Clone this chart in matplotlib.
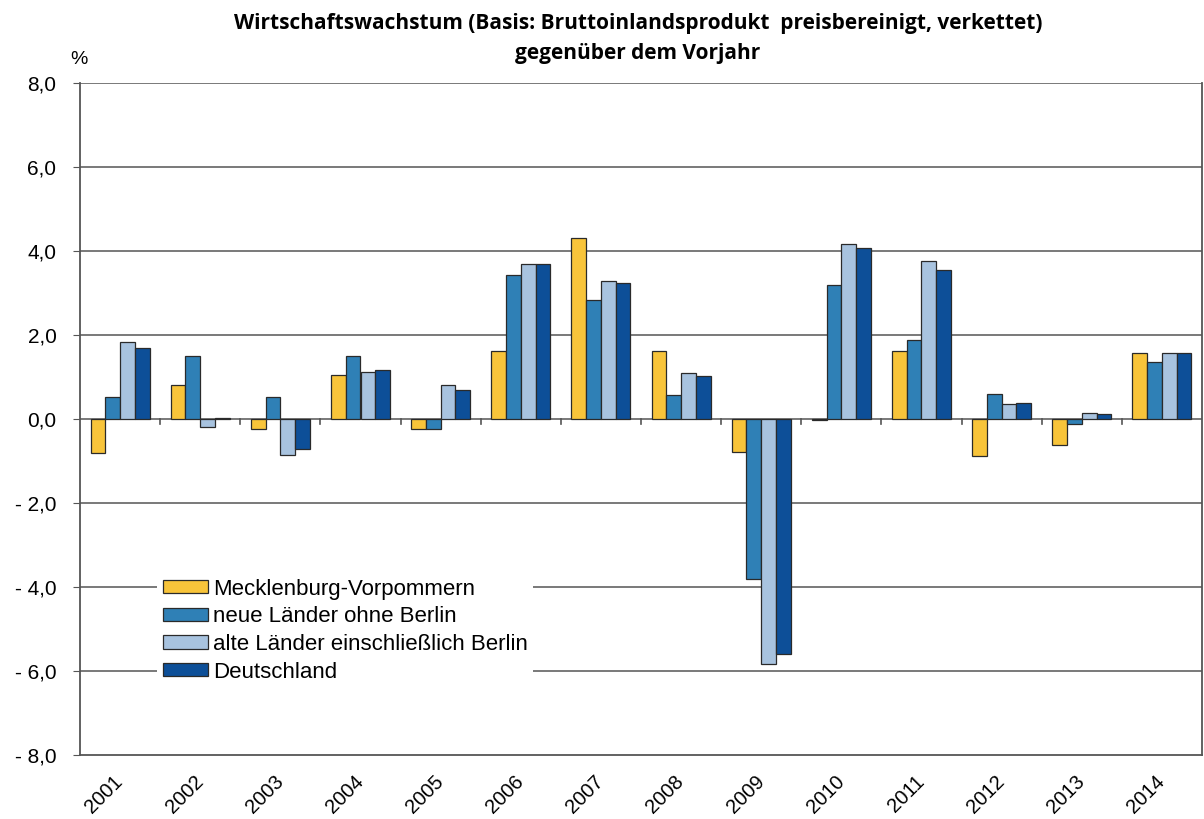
import matplotlib
matplotlib.use("Agg")
import matplotlib.pyplot as plt
import numpy as np

years = ["2001", "2002", "2003", "2004", "2005", "2006", "2007",
         "2008", "2009", "2010", "2011", "2012", "2013", "2014"]
mv = [-0.82, 0.81, -0.24, 1.04, -0.24, 1.63, 4.30, 1.61, -0.79, -0.03, 1.63, -0.89, -0.61, 1.58]
neue = [0.52, 1.50, 0.53, 1.50, -0.24, 3.43, 2.83, 0.57, -3.82, 3.19, 1.89, 0.60, -0.13, 1.36]
alte = [1.83, -0.19, -0.86, 1.13, 0.82, 3.70, 3.29, 1.10, -5.84, 4.17, 3.76, 0.36, 0.14, 1.58]
de = [1.68, 0.02, -0.72, 1.17, 0.70, 3.68, 3.24, 1.03, -5.60, 4.08, 3.55, 0.39, 0.12, 1.58]
series_names = ["Mecklenburg-Vorpommern", "neue Länder ohne Berlin",
                "alte Länder einschließlich Berlin", "Deutschland"]
colors = ["#F8C43A", "#2F80B6", "#A8C3DF", "#0D4F98"]
yticks = [8, 6, 4, 2, 0, -2, -4, -6, -8]
ytick_labels = ["8,0", "6,0", "4,0", "2,0", "0,0", "- 2,0", "- 4,0", "- 6,0", "- 8,0"]

fig = plt.figure(figsize=(12.04, 8.19), dpi=100)
AX_W = 1122
ax = fig.add_axes([80/1204, 1-755/819, AX_W/1204, 672/819])

x = np.arange(len(years))
w = 0.184
data = [mv, neue, alte, de]
for i, (vals, c, name) in enumerate(zip(data, colors, series_names)):
    ax.bar(x + (i - 1.5) * w, vals, width=w, color=c, edgecolor="#2a2a2a",
           linewidth=0.9, label=name, zorder=3)

ax.set_xlim(-0.5, len(years) - 0.5)
ax.set_ylim(-8, 8)
ax.set_yticks(yticks)
ax.set_yticklabels(ytick_labels, fontfamily="Liberation Sans", fontsize=15)
for yv in yticks:
    if yv not in (0, -8):
        ax.axhline(yv, color="#6e6e6e", linewidth=1.3, zorder=1)
ax.axhline(0, color="#6e6e6e", linewidth=1.3, zorder=2)
# small tick marks at category boundaries on the zero line
for b in np.arange(0.5, len(years) - 0.5, 1):
    ax.plot([b, b], [0, -0.13], color="#555555", linewidth=1.2, zorder=2)

ax.set_xticks(x)
ax.set_xticklabels(years, rotation=45, ha="right", va="center", rotation_mode="anchor",
                   fontfamily="Liberation Sans", fontsize=14.5)
ax.tick_params(axis="x", length=0, pad=17)
ax.tick_params(axis="y", length=5, color="#555555", pad=12)
for s in ax.spines.values():
    s.set_color("#555555")
    s.set_linewidth(1.3)
ax.spines["top"].set_visible(False)

leg = ax.legend(loc="upper left", bbox_to_anchor=(77/AX_W, (755-573)/672),
                frameon=True, facecolor="white", edgecolor="none", framealpha=1,
                prop={"family": "Liberation Sans", "size": 16},
                handlelength=2.05, handleheight=0.54, handletextpad=0.22,
                labelspacing=0.3, borderpad=0.25, borderaxespad=0)
leg.set_zorder(5)

fig.text(0.53, 1-24/819, "Wirtschaftswachstum (Basis: Bruttoinlandsprodukt  preisbereinigt, verkettet)",
         ha="center", va="center", fontfamily="Open Sans", fontweight="bold", fontsize=15)
fig.text(0.53, 1-54/819, "gegenüber dem Vorjahr",
         ha="center", va="center", fontfamily="Open Sans", fontweight="bold", fontsize=15)
fig.text(79/1204, 1-59/819, "%", ha="center", va="center",
         fontfamily="Liberation Sans", fontsize=14)

fig.savefig("out.png", dpi=100, facecolor="white")
